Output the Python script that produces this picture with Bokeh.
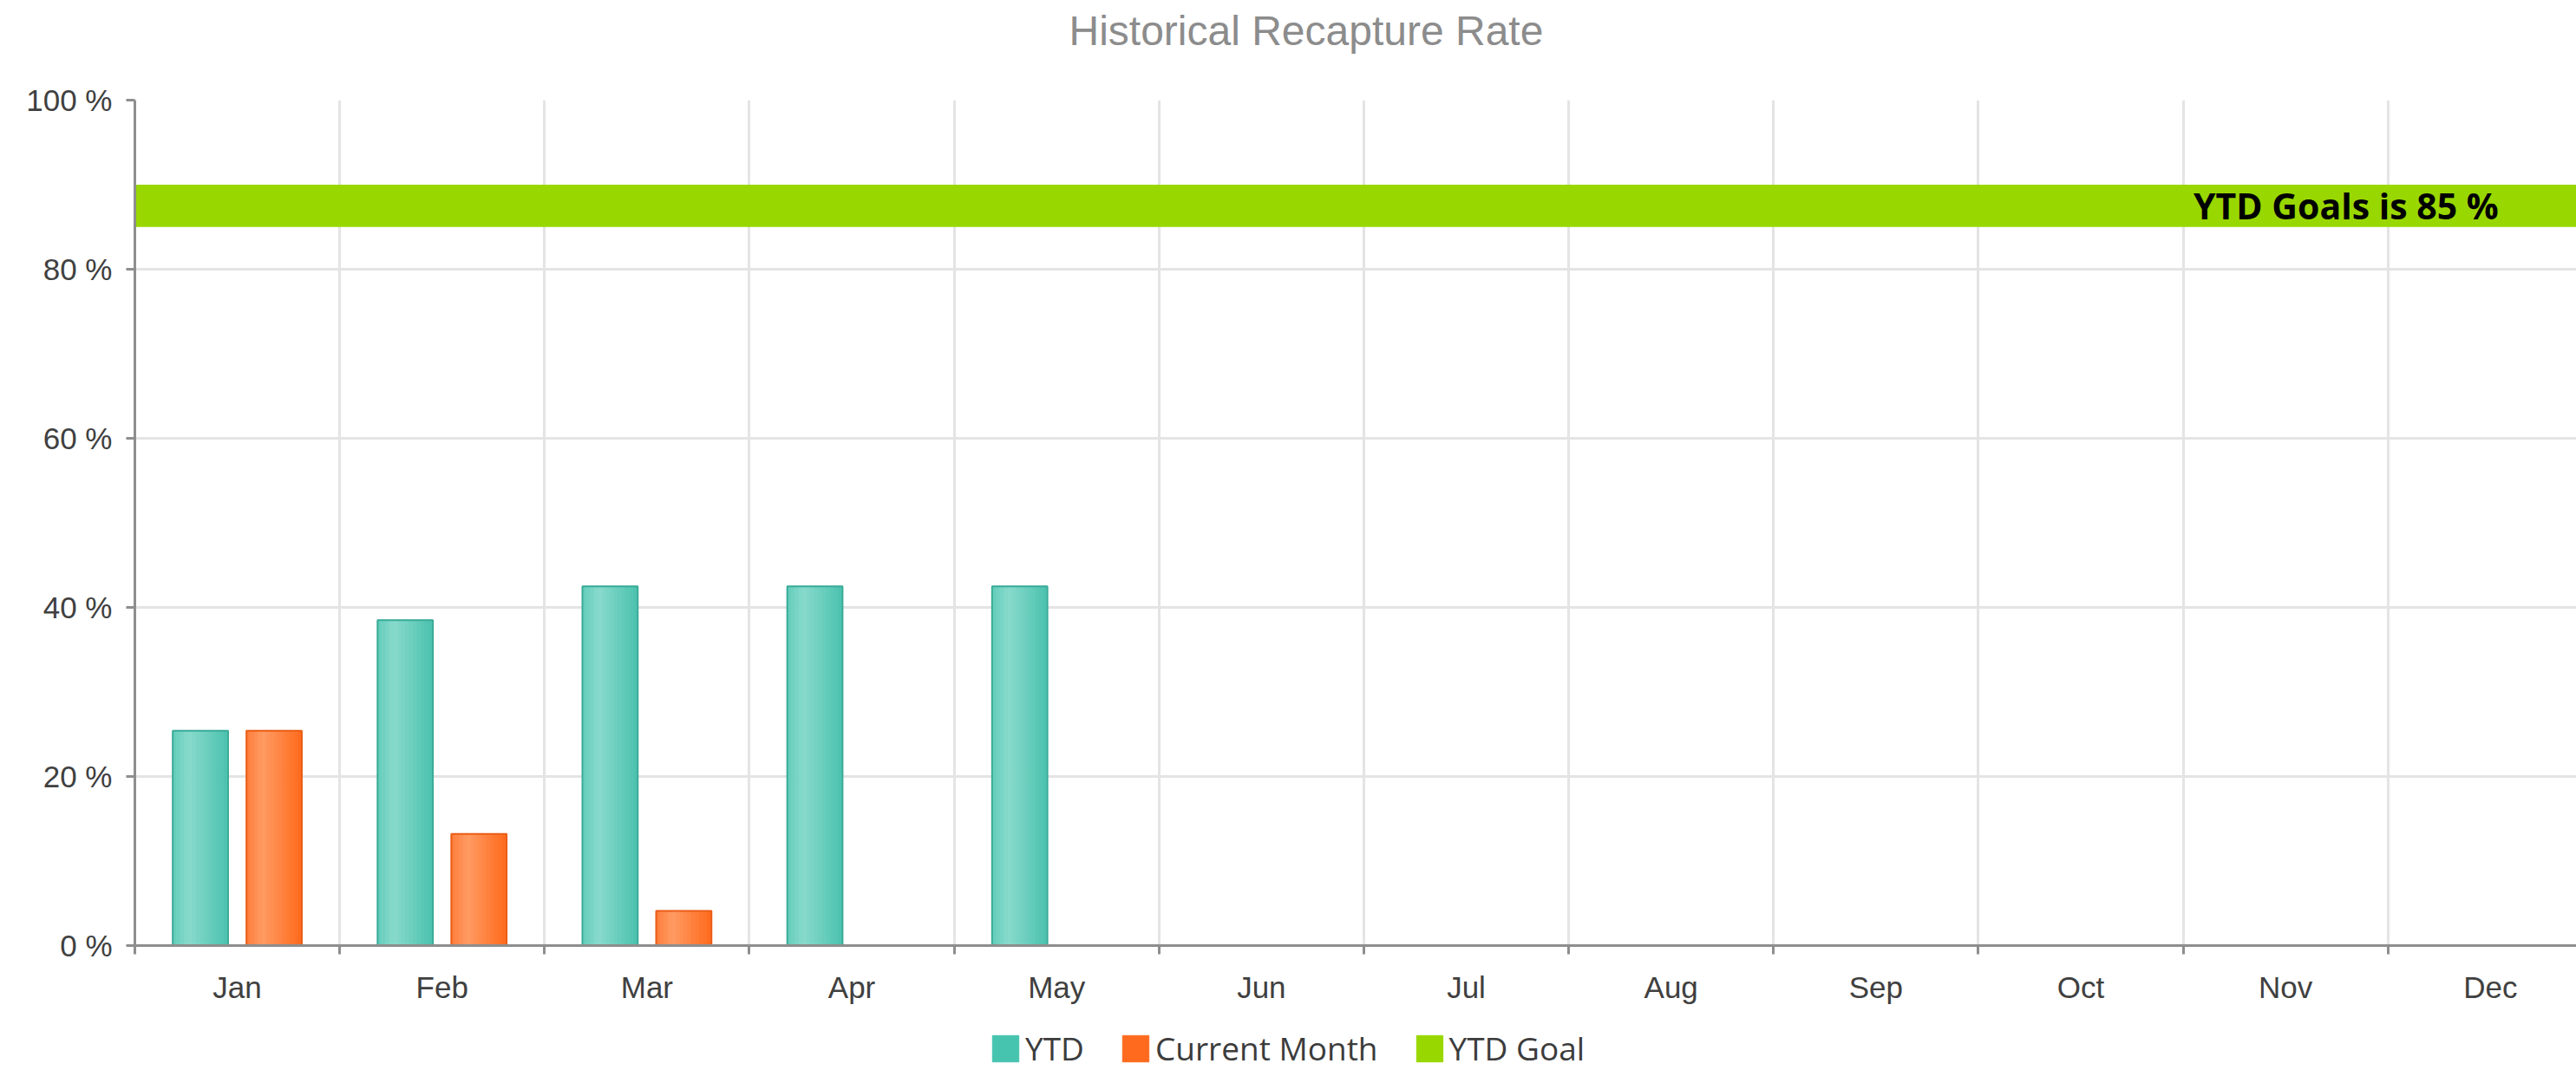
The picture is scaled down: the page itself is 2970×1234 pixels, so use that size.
from bokeh.plotting import figure
from bokeh.layouts import column
from bokeh.models import (ColumnDataSource, Range1d, Label, Legend, Title,
                          LegendItem, FixedTicker, PrintfTickFormatter)
from bokeh.transform import dodge
from bokeh.embed import file_html
from bokeh.resources import INLINE

# ---------------- data ----------------
months = ["Jan", "Feb", "Mar", "Apr", "May", "Jun",
          "Jul", "Aug", "Sep", "Oct", "Nov", "Dec"]
ytd = [25.4, 38.5, 42.5, 42.5, 42.5]
current_month = [25.4, 13.2, 4.1]
ytd_goal = 85
ytd_goal_band_top = 90
y_ticks = [0, 20, 40, 60, 80, 100]
title_text = "Historical Recapture Rate"
series_names = ["YTD", "Current Month", "YTD Goal"]

# ---------------- styles ----------------
TEAL = "#47c4b0"
ORANGE = "#ff6a1e"
GREEN = "#99d700"
TEAL_GRAD = [(0.0, "#62ccba"), (0.3, "#88dacc"), (1.0, "#4cc2ae")]
ORANGE_GRAD = [(0.0, "#ff7c3a"), (0.3, "#ff9b63"), (1.0, "#ff6a1c")]
TEAL_LINE = "#3aab98"
ORANGE_LINE = "#e95d16"
BAR_W = 0.27
OFFS = [-0.18, 0.18]
NSTRIP = 14


def hex2rgb(h):
    h = h.lstrip("#")
    return [int(h[i:i + 2], 16) for i in (0, 2, 4)]


def grad_color(stops, t):
    for (t0, c0), (t1, c1) in zip(stops[:-1], stops[1:]):
        if t0 <= t <= t1:
            a = (t - t0) / (t1 - t0) if t1 > t0 else 0
            r0, r1 = hex2rgb(c0), hex2rgb(c1)
            return "#%02x%02x%02x" % tuple(int(round(u + (v - u) * a)) for u, v in zip(r0, r1))
    return stops[-1][1]


n_cats = len(months)
centers = [i + 0.5 for i in range(n_cats)]
bounds = list(range(n_cats + 1))

p = figure(x_range=Range1d(0, 11.92), y_range=Range1d(0, 100),
           frame_width=2815, frame_height=975,
           output_backend="svg", toolbar_location=None,
           min_border_left=155, min_border_right=0, min_border_top=115,
           min_border_bottom=70, background_fill_color="white",
           border_fill_color="white", outline_line_color=None)

# spacer title next to the frame (white dot), real title stacked above it
p.title.text = ""
p.add_layout(Title(text=".", text_font_size="1px", text_color="white",
                   standoff=44), "above")
p.add_layout(Title(text=title_text, text_font="Liberation Sans",
                   text_font_size="48px", text_font_style="normal",
                   text_color="#8c8c8c", align="left", offset=1077,
                   vertical_align="middle", standoff=12), "above")

# axes
AX = "#8e8e8e"
yax = p.yaxis[0]
yax.ticker = FixedTicker(ticks=y_ticks)
yax.formatter = PrintfTickFormatter(format="%d %%")
xax = p.xaxis[0]
xax.ticker = FixedTicker(ticks=centers, minor_ticks=bounds)
xax.major_label_overrides = {c: m for c, m in zip(centers, months)}
for ax in (xax, yax):
    ax.axis_line_color = AX
    ax.axis_line_width = 3
    ax.major_tick_line_color = AX
    ax.major_tick_line_width = 3
    ax.minor_tick_line_color = AX
    ax.minor_tick_line_width = 3
    ax.major_label_text_font = "Liberation Sans"
    ax.major_label_text_font_size = "35px"
    ax.major_label_text_color = "#404040"
    ax.major_label_standoff = 16
yax.major_tick_out = 10
yax.major_tick_in = 0
yax.minor_tick_out = 0
yax.minor_tick_in = 0
xax.major_tick_out = 0
xax.major_tick_in = 0
xax.minor_tick_out = 10
xax.minor_tick_in = 0
xax.major_label_standoff = 18

GRID = "#e4e4e4"
p.ygrid.grid_line_color = GRID
p.ygrid.grid_line_width = 3
p.xgrid.grid_line_color = None
p.xgrid.minor_grid_line_color = GRID
p.xgrid.minor_grid_line_width = 3

# goal band (drawn as a glyph over the grid)
goal_src = ColumnDataSource(dict(left=[0], right=[n_cats], bottom=[ytd_goal],
                                 top=[ytd_goal_band_top]))
p.quad(left="left", right="right", bottom="bottom", top="top",
       source=goal_src, fill_color=GREEN, line_color=GREEN, line_width=0)
p.add_layout(Label(x=11.54, y=(ytd_goal + ytd_goal_band_top) / 2,
                   text=f"YTD Goals is {ytd_goal} %", text_align="right",
                   text_baseline="middle", text_font="Open Sans",
                   text_font_size="41px", text_font_style="bold",
                   text_color="black"))

# bars
for vals, off, base, stops, edge in ((ytd, OFFS[0], TEAL, TEAL_GRAD, TEAL_LINE),
                                     (current_month, OFFS[1], ORANGE, ORANGE_GRAD, ORANGE_LINE)):
    src = ColumnDataSource(dict(x=centers[:len(vals)], v=vals))
    sw = BAR_W / NSTRIP
    for k in range(NSTRIP):
        t = (k + 0.5) / NSTRIP
        c = grad_color(stops, t)
        p.vbar(x=dodge("x", off - BAR_W / 2 + (k + 0.5) * sw, range=p.x_range),
               width=sw, top="v", bottom=0, source=src,
               fill_color=c, line_color=c, line_width=1)
    p.vbar(x=dodge("x", off, range=p.x_range), width=BAR_W, top="v", bottom=0,
           source=src, fill_alpha=0, line_color=edge, line_width=2)

# legend strip below the chart (its swatch renderers are hidden)
q = figure(width=2970, height=74, x_range=Range1d(0, 1), y_range=Range1d(0, 1),
           x_axis_type=None, y_axis_type=None, output_backend="svg",
           toolbar_location=None, min_border=0, outline_line_color=None,
           background_fill_color="white", border_fill_color="white")
legend_renderers = []
for color in (TEAL, ORANGE, GREEN):
    r = q.vbar(x=[0.5], top=[0.5], width=0.1,
               fill_color=color, line_color=color, line_width=1)
    r.visible = False
    legend_renderers.append(r)
legend = Legend(items=[LegendItem(label=n, renderers=[r]) for n, r in zip(series_names, legend_renderers)],
                orientation="horizontal", location=(985, 0),
                label_text_font="Open Sans", label_text_font_size="37px",
                label_text_color="#3c3c3c", glyph_width=38, glyph_height=38,
                label_standoff=4, spacing=40, padding=0, margin=0,
                inactive_fill_alpha=0,
                border_line_alpha=0, background_fill_alpha=0)
q.add_layout(legend, "center")

layout = column(p, q, spacing=0)
open("out.html", "w").write(file_html(layout, INLINE))
